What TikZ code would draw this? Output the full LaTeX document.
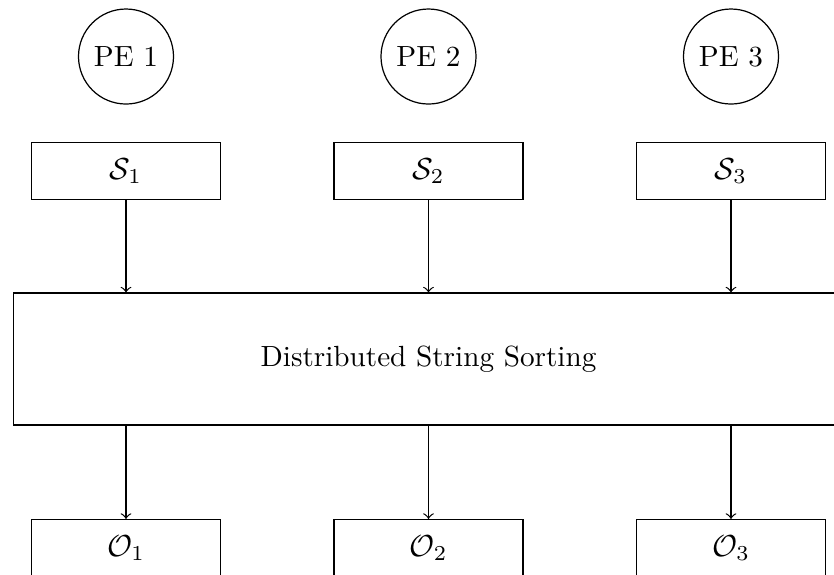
\documentclass[tikz,border=0pt]{standalone}
\begin{document}
\begin{tikzpicture}[x=0.3289pt,y=-0.3289pt,
  every node/.style={font=\fontsize{9.6pt}{11.5pt}\selectfont},
  pe/.style={circle,draw,minimum size=31.25pt,inner sep=0pt},
  sbox/.style={draw,minimum width=62.2pt,minimum height=18.75pt,inner sep=0pt},
  bigbox/.style={draw,minimum width=273pt,minimum height=43.4pt,inner sep=0pt},
  conn/.style={->}]
\useasboundingbox (0,0) rectangle (834,574);
\clip (0,0) rectangle (834,574);
\node[pe] (pe1) at (126,56.5) {PE 1};
\node[pe] (pe2) at (428.5,56.5) {PE 2};
\node[pe] (pe3) at (731,56.5) {PE 3};
\node[sbox] (s1) at (126,171) {$\mathcal{S}_1$};
\node[sbox] (s2) at (428.5,171) {$\mathcal{S}_2$};
\node[sbox] (s3) at (731,171) {$\mathcal{S}_3$};
\node[bigbox] (d) at (428.5,359) {Distributed String Sorting};
\node[sbox] (o1) at (126,548) {$\mathcal{O}_1$};
\node[sbox] (o2) at (428.5,548) {$\mathcal{O}_2$};
\node[sbox] (o3) at (731,548) {$\mathcal{O}_3$};
\foreach \i in {1,2,3}{
  \draw[conn] (s\i.south) -- (s\i.south |- d.north);
  \draw[conn] (d.south -| o\i.north) -- (o\i.north);
}
\end{tikzpicture}
\end{document}
